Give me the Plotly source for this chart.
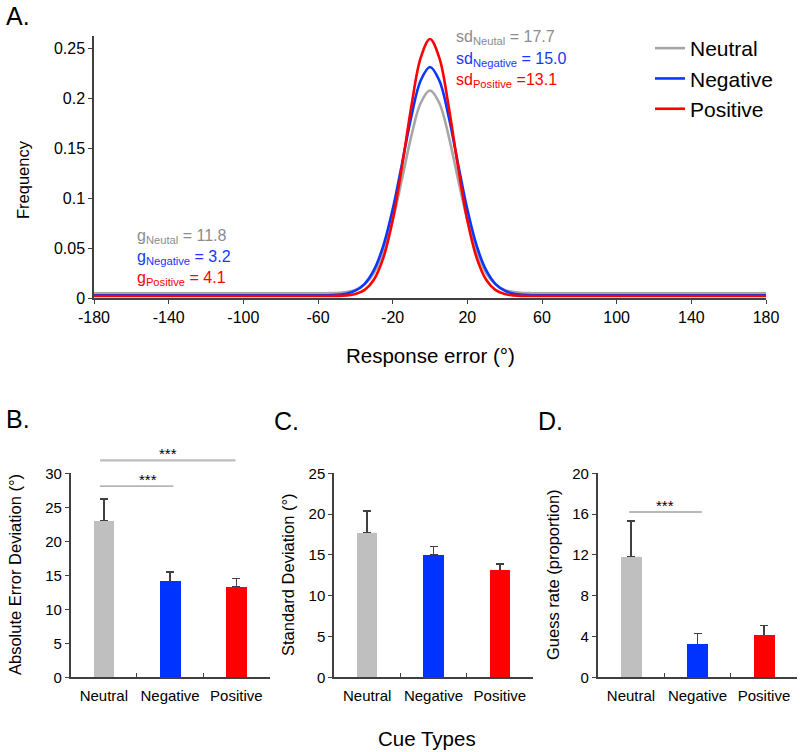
import plotly.graph_objects as go

W, H = 800, 752
FONT = "Liberation Sans, Arial, sans-serif"

# ---------- Panel A data ----------
err_x = [-180, -60, -55, -50, -45, -40, -35, -30, -25, -20, -15, -10, -5, 0,
         5, 10, 15, 20, 25, 30, 35, 40, 45, 50, 55, 60, 180]
half_neutral = [0.2076, 0.1951, 0.1620, 0.1191, 0.0780, 0.0462, 0.0254, 0.0139,
                0.0084, 0.0062, 0.0053, 0.0051, 0.0050]
half_negative = [0.2310, 0.2175, 0.1815, 0.1345, 0.0888, 0.0525, 0.0283, 0.0144,
                 0.0076, 0.0046, 0.0035, 0.0031, 0.0030]
half_positive = [0.2590, 0.2401, 0.1915, 0.1315, 0.0780, 0.0404, 0.0188, 0.0084,
                 0.0042, 0.0028, 0.0024, 0.0023, 0.0023]
freq_neutral = [0.0050] + half_neutral[::-1] + half_neutral[1:] + [0.0050]
freq_negative = [0.0030] + half_negative[::-1] + half_negative[1:] + [0.0030]
freq_positive = [0.0023] + half_positive[::-1] + half_positive[1:] + [0.0023]
x_ticks_A = [-180, -140, -100, -60, -20, 20, 60, 100, 140, 180]
x_ticklabels_A = ["-180", "-140", "-100", "-60", "-20", "20", "60", "100", "140", "180"]
y_ticks_A = [0, 0.05, 0.1, 0.15, 0.2, 0.25]
y_ticklabels_A = ["0", "0.05", "0.1", "0.15", "0.2", "0.25"]

# ---------- Panels B-D data ----------
cue_types = ["Neutral", "Negative", "Positive"]
abs_err = [23.0, 14.1, 13.3]
abs_err_se = [3.2, 1.4, 1.2]
sd_vals = [17.7, 15.0, 13.1]
sd_se = [2.7, 1.0, 0.8]
guess_vals = [11.8, 3.2, 4.1]
guess_se = [3.5, 1.1, 1.0]

curve_colors = ["#A6A6A6", "#0A37FF", "#FF0000"]
bar_colors = ["#BFBFBF", "#0033FF", "#FF0000"]
AX = "#404040"


def px(x):
    return x / W


def py(y):
    return 1 - y / H


fig = go.Figure()

for name, ys, c in zip(cue_types, [freq_neutral, freq_negative, freq_positive], curve_colors):
    fig.add_trace(go.Scatter(x=err_x, y=ys, mode="lines", name=name,
                             line=dict(color=c, width=2.6, shape="spline", smoothing=1.0),
                             xaxis="x", yaxis="y"))

for i, (vals, se) in enumerate([(abs_err, abs_err_se), (sd_vals, sd_se), (guess_vals, guess_se)]):
    k = str(i + 2)
    fig.add_trace(go.Bar(x=cue_types, y=vals, marker=dict(color=bar_colors, line=dict(width=0)),
                         width=0.31, showlegend=False, hoverinfo="skip",
                         error_y=dict(type="data", array=se, arrayminus=[0, 0, 0], symmetric=False,
                                      color=AX, thickness=1.5, width=4),
                         xaxis="x" + k, yaxis="y" + k))
    # same bars drawn again on top so that only the upper error cap shows
    fig.add_trace(go.Bar(x=cue_types, y=vals, marker=dict(color=bar_colors, line=dict(width=0)),
                         width=0.31, showlegend=False, xaxis="x" + k, yaxis="y" + k))

axis_common = dict(showline=True, linecolor=AX, linewidth=1.5, showgrid=False, zeroline=False,
                   tickcolor=AX, tickfont=dict(family=FONT, size=15, color="#000"))

layout = dict(
    width=W, height=H, margin=dict(l=0, r=0, t=0, b=0, autoexpand=False),
    paper_bgcolor="white", plot_bgcolor="white",
    font=dict(family=FONT, color="#000"),
    bargap=0, barmode="overlay",
    xaxis=dict(domain=[px(94), px(766)], range=[-180, 180], tickvals=x_ticks_A,
               ticktext=x_ticklabels_A, ticks="outside", ticklen=4, anchor="y",
               **{**axis_common, "tickfont": dict(family=FONT, size=16, color="#000")}),
    yaxis=dict(domain=[py(298.3), py(36)], range=[0, 0.262], tickvals=y_ticks_A,
               ticktext=y_ticklabels_A, ticks="outside", ticklen=4, anchor="x",
               **{**axis_common, "tickfont": dict(family=FONT, size=16, color="#000")}),
    legend=dict(x=px(650), y=py(28), xanchor="left", yanchor="top",
                font=dict(family=FONT, size=21, color="#000"), bgcolor="rgba(0,0,0,0)",
                tracegroupgap=0, itemwidth=30),
)

bottom_dom = [py(677.3), py(473.3)]
xdoms = [[px(70.7), px(269.5)], [px(334), px(533)], [px(597.7), px(797.3)]]
yranges = [[0, 30], [0, 25], [0, 20]]
ytv = [[0, 5, 10, 15, 20, 25, 30], [0, 5, 10, 15, 20, 25], [0, 4, 8, 12, 16, 20]]
for i in range(3):
    k = str(i + 2)
    layout["xaxis" + k] = dict(domain=xdoms[i], type="category", tickson="boundaries",
                               ticks="inside", ticklen=5, anchor="y" + k, range=[-0.5, 2.5],
                               tickangle=0, ticklabelstandoff=4, **axis_common)
    layout["yaxis" + k] = dict(domain=bottom_dom, range=yranges[i], tickvals=ytv[i],
                               ticks="outside", ticklen=4, anchor="x" + k, **axis_common)

fig.update_layout(**layout)

ann = []
# panel letters
for t, x, y in [("A.", 4, 16), ("B.", 4, 419), ("C.", 272, 421), ("D.", 536, 421)]:
    ann.append(dict(text=t, x=px(x), y=py(y), xref="paper", yref="paper", xanchor="left",
                    yanchor="middle", showarrow=False, font=dict(family=FONT, size=25, color="#000")))
# axis titles
ann.append(dict(text="Frequency", x=px(23), y=py(180), xref="paper", yref="paper", textangle=-90,
                xanchor="center", yanchor="middle",
                showarrow=False, font=dict(family=FONT, size=16.5, color="#000")))
ann.append(dict(text="Response error (°)", x=px(430), y=py(356), xref="paper", yref="paper",
                xanchor="center", yanchor="middle",
                showarrow=False, font=dict(family=FONT, size=20.5, color="#000")))
ann.append(dict(text="Cue Types", x=px(427), y=py(738), xref="paper", yref="paper",
                xanchor="center", yanchor="middle",
                showarrow=False, font=dict(family=FONT, size=20.5, color="#000")))
for t, x in [("Absolute Error Deviation (°)", 15), ("Standard Deviation (°)", 288),
             ("Guess rate (proportion)", 553)]:
    ann.append(dict(text=t, x=px(x), y=py(575), xref="paper", yref="paper", textangle=-90,
                    xanchor="center", yanchor="middle",
                    showarrow=False, font=dict(family=FONT, size=16.5, color="#000")))
# parameter labels
txt_cols = ["#8C8C8C", "#1438FF", "#FF0000"]
sd_txt = ["sd<sub>Neutal</sub> = 17.7", "sd<sub>Negative</sub> = 15.0", "sd<sub>Positive</sub> =13.1"]
g_txt = ["g<sub>Neutal</sub> = 11.8", "g<sub>Negative</sub> = 3.2", "g<sub>Positive</sub> = 4.1"]
for t, c, y in zip(sd_txt, txt_cols, [38, 59, 80]):
    ann.append(dict(text=t, x=px(454), y=py(y), xref="paper", yref="paper", xanchor="left",
                    yanchor="middle", showarrow=False, font=dict(family=FONT, size=16, color=c)))
for t, c, y in zip(g_txt, txt_cols, [236, 257, 278]):
    ann.append(dict(text=t, x=px(135), y=py(y), xref="paper", yref="paper", xanchor="left",
                    yanchor="middle", showarrow=False, font=dict(family=FONT, size=16, color=c)))

# significance markers: (axis, x0, x1, y (domain frac), color, width)
sig = [("x2", "y2", 0.147, 0.516, 28.1 / 30, "#9A9A9A", 1.2),
       ("x2", "y2", 0.147, 0.829, 31.9 / 30, "#BDBDBD", 2.2),
       ("x4", "y4", 0.158, 0.521, 16.2 / 20, "#A0A0A0", 1.5)]
shapes = []
for xa, ya, x0, x1, yv, c, w in sig:
    shapes.append(dict(type="line", xref=xa + " domain", yref=ya + " domain", x0=x0, x1=x1,
                       y0=yv, y1=yv, line=dict(color=c, width=w)))
    ann.append(dict(text="***", xref=xa + " domain", yref=ya + " domain", x=(x0 + x1) / 2, y=yv,
                    yanchor="bottom", yshift=-4, showarrow=False,
                    font=dict(family=FONT, size=15, color="#000")))

fig.update_layout(annotations=ann, shapes=shapes)
fig.write_html("out.html", post_script="document.body.style.margin='0';")
